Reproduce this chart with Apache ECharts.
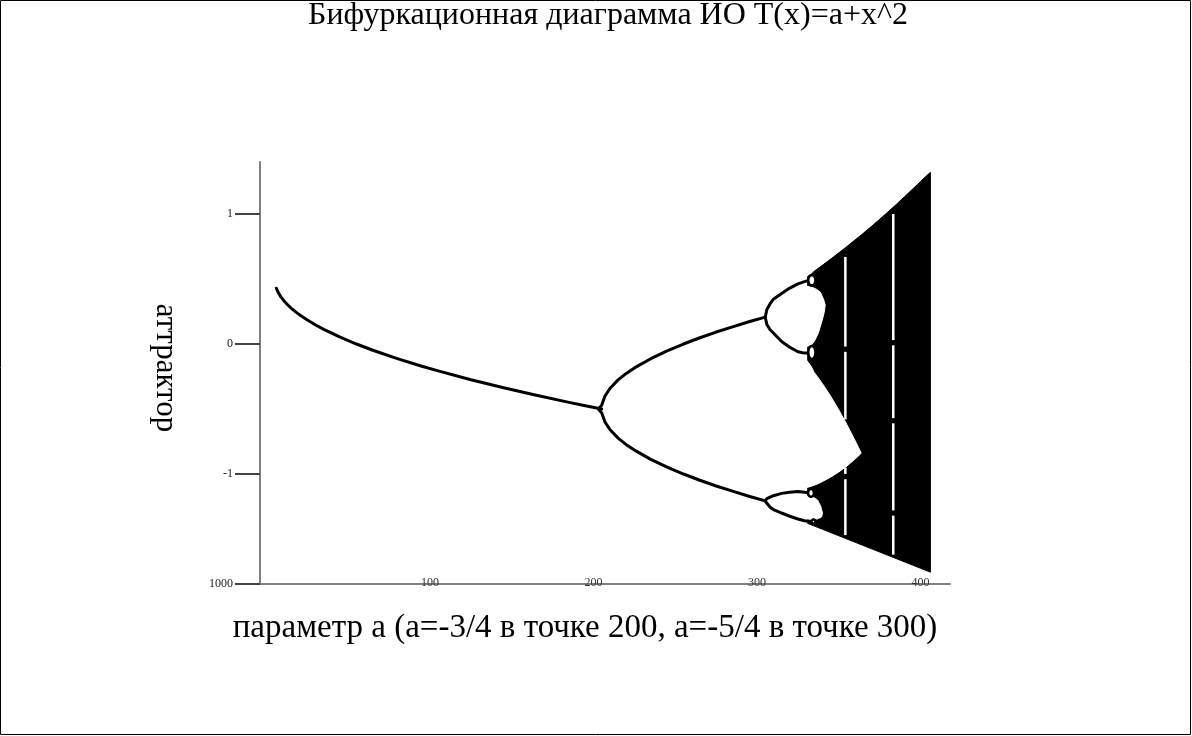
<!DOCTYPE html>
<html>
<head>
<meta charset="utf-8">
<script src="https://cdn.jsdelivr.net/npm/echarts@6/dist/echarts.min.js"></script>
<style>
  html, body { margin: 0; padding: 0; background: #fff; }
  #chart { width: 1192px; height: 736px; }
</style>
</head>
<body>
<div id="chart"></div>
<script>
// Bifurcation diagram of T(x) = a + x^2, parameter step index on x, attractor on y.

const titleText = 'Бифуркационная диаграмма ИО T(x)=a+x^2';
const xName = 'параметр а (а=-3/4 в точке 200, а=-5/4 в точке 300)';
const yName = 'аттрактор';

const xTickValues = [100, 200, 300, 400];
const yTickValues = [-1.846, -1, 0, 1];
const yTickLabels = ['1000', '-1', '0', '1'];

// stable fixed point
const fixedBranch = [
  [6, 0.429], [7, 0.40], [8, 0.378], [9, 0.359], [11, 0.327], [13, 0.30], [15, 0.276],
  [18, 0.245], [21, 0.217], [25, 0.184], [30, 0.146], [35, 0.113], [45, 0.053], [55, 0],
  [65, -0.048], [80, -0.112], [95, -0.171], [105, -0.207], [125, -0.275], [145, -0.337],
  [165, -0.394], [185, -0.449], [195, -0.475], [205, -0.5]
];

// period-2 cycle
const cycle2Upper = [
  [203, -0.5], [205, -0.47], [207, -0.4], [210, -0.342], [215, -0.276], [220, -0.226], [225, -0.184],
  [235, -0.113], [245, -0.053], [255, 0], [265, 0.048], [275, 0.092], [285, 0.132],
  [295, 0.171], [305, 0.207]
];
const cycle2Lower = [
  [203, -0.5], [205, -0.53], [207, -0.6], [210, -0.658], [215, -0.724], [220, -0.774], [225, -0.816],
  [235, -0.887], [245, -0.947], [255, -1], [265, -1.048], [275, -1.092], [285, -1.132],
  [295, -1.171], [305, -1.207]
];

// period-4 cycle
const cycle4UpperHigh = [[305, 0.207], [306, 0.265], [308, 0.31], [310, 0.345], [315, 0.389], [320, 0.43], [325, 0.463], [329, 0.48], [332, 0.49]];
const cycle4UpperLow = [[305, 0.207], [306, 0.15], [308, 0.11], [310, 0.085], [315, 0.019], [320, -0.025], [325, -0.06], [329, -0.07], [332, -0.07]];
const cycle4LowerHigh = [[305, -1.207], [306, -1.19], [308, -1.178], [310, -1.167], [315, -1.149], [320, -1.14], [325, -1.135], [329, -1.14], [332, -1.145]];
const cycle4LowerLow = [[305, -1.207], [306, -1.225], [308, -1.255], [310, -1.273], [315, -1.30], [320, -1.325], [325, -1.346], [329, -1.36], [332, -1.365]];

// chaotic band: upper and lower envelope
const chaosTop = [
  [331, 0.52], [333, 0.535], [335, 0.56], [337, 0.578], [340, 0.606], [345, 0.653],
  [350, 0.701], [355, 0.75], [360, 0.801], [365, 0.852], [370, 0.905], [375, 0.96],
  [380, 1.015], [385, 1.072], [390, 1.13], [395, 1.19], [400, 1.25], [405, 1.31], [406, 1.32]
];
const chaosBottom = [
  [331, -1.38], [335, -1.40], [340, -1.425], [345, -1.45], [350, -1.475], [355, -1.50],
  [360, -1.525], [365, -1.55], [370, -1.575], [375, -1.60], [380, -1.625], [385, -1.65],
  [390, -1.675], [395, -1.70], [400, -1.725], [405, -1.75], [406, -1.755]
];

// gap between the two chaotic bands, closing where they merge
const bandGapTop = [
  [330, -0.12], [333, -0.17], [335, -0.22], [337, -0.252], [340, -0.305], [345, -0.401],
  [350, -0.507], [355, -0.621], [360, -0.744], [362, -0.794], [363.7, -0.84]
];
const bandGapBottom = [
  [330, -1.105], [333, -1.095], [335, -1.086], [337, -1.076], [340, -1.058], [345, -1.024],
  [350, -0.984], [355, -0.938], [360, -0.884], [362, -0.861], [363.7, -0.84]
];

// gaps inside each band (four-band regime)
const upperBandGap = [
  [330, 0.445], [334, 0.435], [336.5, 0.42], [338.6, 0.40], [340.5, 0.35], [341.7, 0.30],
  [341, 0.24], [339.9, 0.185], [337.5, 0.085], [335, 0.02], [333, -0.01], [330, -0.02]
];
const lowerBandGap = [
  [330, -1.165], [334, -1.175], [337, -1.2], [339, -1.25], [340, -1.30], [339.5, -1.33],
  [337, -1.345], [334, -1.35], [330, -1.345]
];

// period-8 bubbles: [x, y, half-width, half-height]
const period8Bubbles = [
  [333.5, 0.49, 2.2, 0.04],
  [333.5, -0.065, 2.2, 0.05],
  [333, -1.145, 1.8, 0.03],
  [334.5, -1.365, 1.2, 0.015]
];

// periodic windows inside chaos: [x, yTop, yBottom]
const windows = [
  [354, 0.67, -0.02], [354, -0.06, -0.58], [354, -0.95, -1.0], [354, -1.04, -1.47],
  [383.3, 1.0, 0.03], [383.3, -0.01, -0.57], [383.3, -0.61, -1.28], [383.3, -1.32, -1.62]
];

const chaosPolygon = chaosTop.concat(chaosBottom.slice().reverse());
const gapPolygon = bandGapTop.concat(bandGapBottom.slice().reverse());

function polygonSeries(polys, fill, z) {
  return {
    type: 'custom',
    coordinateSystem: 'cartesian2d',
    silent: true,
    z: z,
    data: polys.map((p, k) => [p[0][0], p[0][1], k]),
    encode: { x: 0, y: 1 },
    renderItem: function (params, api) {
      const pts = polys[params.dataIndex].map(pt => api.coord(pt));
      return {
        type: 'polygon',
        shape: { points: pts },
        style: { fill: fill, stroke: fill, lineWidth: 1 }
      };
    }
  };
}

function branchSeries(data) {
  return {
    type: 'line',
    data: data,
    showSymbol: false,
    symbol: 'none',
    silent: true,
    z: 6,
    lineStyle: { color: '#000', width: 3, cap: 'round', join: 'round' }
  };
}

const serif = 'Liberation Serif, Times New Roman, serif';

const chart = echarts.init(document.getElementById('chart'), null, { renderer: 'canvas' });

chart.setOption({
  animation: false,
  backgroundColor: '#fff',
  title: {
    text: titleText,
    left: 608,
    top: 0,
    padding: 0,
    textAlign: 'center',
    textStyle: { fontFamily: serif, fontSize: 32, fontWeight: 'normal', color: '#000' }
  },
  grid: { left: 260, right: 242, top: 162, bottom: 152 },
  xAxis: {
    type: 'value',
    min: -4,
    max: 418,
    splitLine: { show: false },
    axisLine: { show: true, onZero: false, lineStyle: { color: '#808080', width: 2 } },
    axisTick: { show: false },
    axisLabel: {
      customValues: xTickValues,
      margin: -7,
      fontFamily: serif,
      fontSize: 12,
      color: '#333'
    }
  },
  yAxis: {
    type: 'value',
    min: -1.846,
    max: 1.4,
    splitLine: { show: false },
    axisLine: { show: true, onZero: false, lineStyle: { color: '#808080', width: 2 } },
    axisTick: {
      show: true,
      customValues: yTickValues,
      length: 25,
      lineStyle: { color: '#444', width: 2 }
    },
    axisLabel: {
      customValues: yTickValues,
      margin: 27,
      fontFamily: serif,
      fontSize: 12,
      color: '#222',
      formatter: function (v) {
        let best = 0;
        yTickValues.forEach((t, k) => { if (Math.abs(t - v) < Math.abs(yTickValues[best] - v)) best = k; });
        return yTickLabels[best];
      }
    }
  },
  graphic: [
    {
      type: 'rect',
      silent: true,
      shape: { x: 0.5, y: 0.5, width: 1190, height: 734 },
      style: { fill: null, stroke: '#000', lineWidth: 1 }
    },
    {
      type: 'text',
      silent: true,
      x: 165,
      y: 368,
      rotation: -Math.PI / 2,
      style: {
        text: yName,
        font: '31px ' + serif,
        fill: '#000',
        align: 'center',
        verticalAlign: 'middle'
      }
    },
    {
      type: 'text',
      silent: true,
      x: 585,
      y: 628,
      style: {
        text: xName,
        font: '33px ' + serif,
        fill: '#000',
        align: 'center',
        verticalAlign: 'middle'
      }
    }
  ],
  series: [
    polygonSeries([chaosPolygon], '#000', 2),
    polygonSeries([gapPolygon, upperBandGap, lowerBandGap], '#fff', 3),
    {
      type: 'custom',
      coordinateSystem: 'cartesian2d',
      silent: true,
      z: 4,
      data: windows,
      encode: { x: 0, y: [1, 2] },
      renderItem: function (params, api) {
        const p1 = api.coord([api.value(0), api.value(1)]);
        const p2 = api.coord([api.value(0), api.value(2)]);
        return {
          type: 'line',
          shape: { x1: p1[0], y1: p1[1], x2: p2[0], y2: p2[1] },
          style: { stroke: '#fff', lineWidth: 2.5 }
        };
      }
    },
    branchSeries(fixedBranch),
    branchSeries(cycle2Upper),
    branchSeries(cycle2Lower),
    branchSeries(cycle4UpperHigh),
    branchSeries(cycle4UpperLow),
    branchSeries(cycle4LowerHigh),
    branchSeries(cycle4LowerLow),
    {
      type: 'custom',
      coordinateSystem: 'cartesian2d',
      silent: true,
      z: 8,
      data: period8Bubbles,
      encode: { x: 0, y: 1 },
      renderItem: function (params, api) {
        const c = api.coord([api.value(0), api.value(1)]);
        const e = api.coord([api.value(0) + api.value(2), api.value(1) + api.value(3)]);
        const rx = Math.abs(e[0] - c[0]);
        const ry = Math.abs(e[1] - c[1]);
        const pts = [];
        for (let k = 0; k < 24; k++) {
          const t = (k / 24) * Math.PI * 2;
          pts.push([c[0] + rx * Math.cos(t), c[1] + ry * Math.sin(t)]);
        }
        return {
          type: 'polygon',
          shape: { points: pts },
          style: { fill: '#fff', stroke: '#000', lineWidth: 2.5 }
        };
      }
    }
  ]
});
</script>
</body>
</html>
